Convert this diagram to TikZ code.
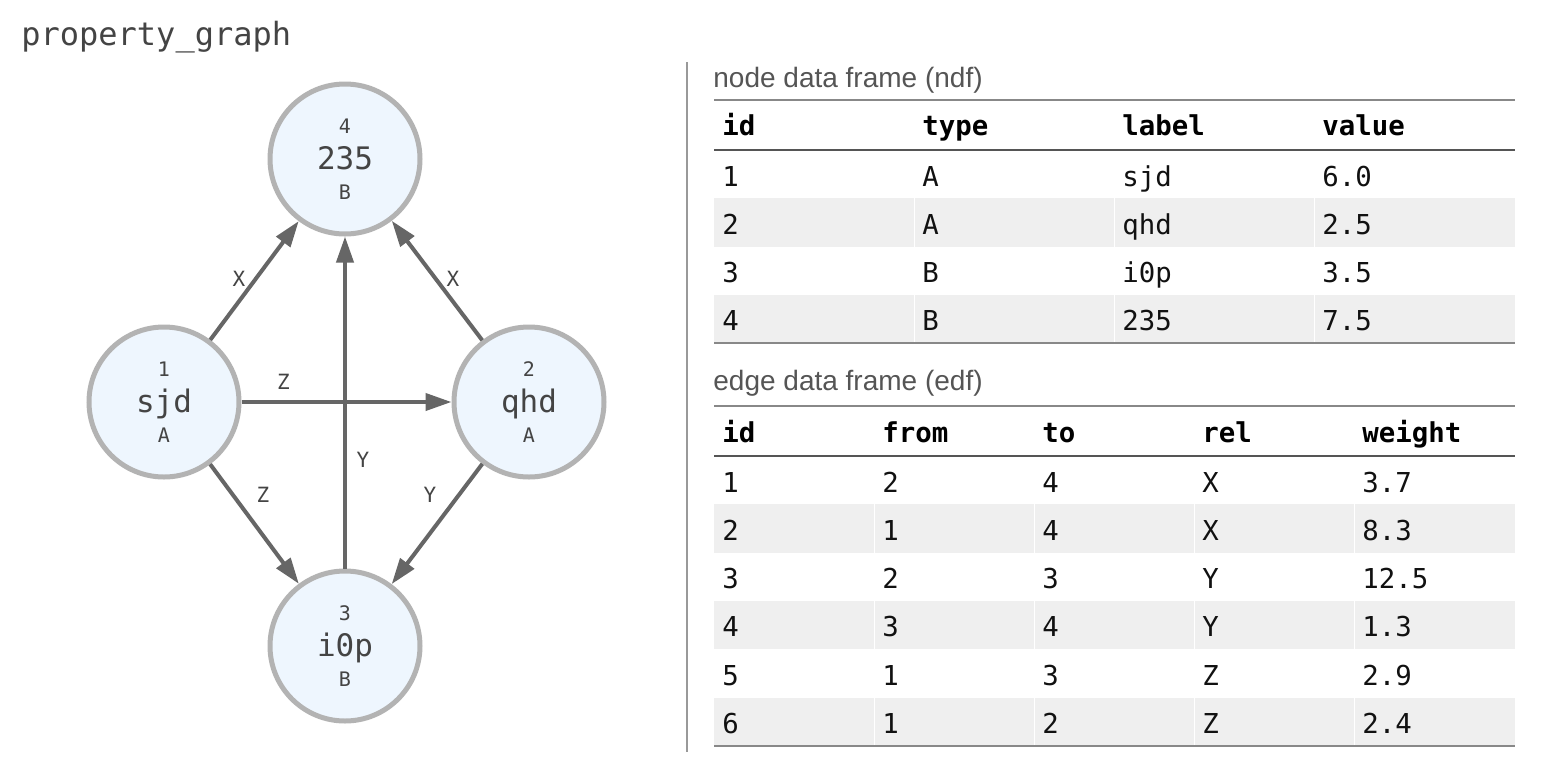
\documentclass[tikz,border=0pt]{standalone}
\usepackage{fontspec}
\setmainfont{Liberation Sans}
\setmonofont{DejaVu Sans Mono}
\usetikzlibrary{arrows.meta,calc}
\definecolor{nodefill}{HTML}{EEF6FE}
\definecolor{nodeline}{HTML}{B3B3B3}
\definecolor{edgec}{HTML}{666666}
\definecolor{txt}{HTML}{444444}
\definecolor{tabtxt}{HTML}{111111}
\definecolor{rowgray}{HTML}{EFEFEF}
\definecolor{rulelight}{HTML}{888888}
\definecolor{ruledark}{HTML}{555555}
\definecolor{divc}{HTML}{999999}
\definecolor{captc}{HTML}{555555}
\tikzset{
  gnode/.style={circle, draw=nodeline, fill=nodefill, line width=2.5pt, minimum size=75pt, inner sep=0pt},
  nid/.style={font=\ttfamily\fontsize{10pt}{12pt}\selectfont, text=txt, inner sep=0pt, anchor=base},
  nlab/.style={font=\ttfamily\fontsize{15.5pt}{18pt}\selectfont, text=txt, inner sep=0pt, anchor=base},
  edge/.style={draw=edgec, line width=2pt, -{Triangle[length=13pt,width=8.5pt]}},
  elab/.style={font=\ttfamily\fontsize{10.5pt}{12pt}\selectfont, text=txt, inner sep=0pt},
  cell/.style={font=\ttfamily\fontsize{13.7pt}{15pt}\selectfont, text=tabtxt, inner sep=0pt, anchor=base west},
  hcell/.style={cell, font=\ttfamily\bfseries\fontsize{13.7pt}{15pt}\selectfont, text=black},
  capt/.style={font=\fontsize{14pt}{16pt}\selectfont, text=captc, inner sep=0pt, anchor=base west},
  rulel/.style={draw=rulelight, line width=1.25pt},
  ruled/.style={draw=ruledark, line width=1.25pt},
}
\begin{document}
\begin{tikzpicture}[x=0.5pt,y=-0.5pt]
\useasboundingbox (0,0) rectangle (1544,772);
\fill[white] (0,0) rectangle (1544,772);

% title
\node[font=\ttfamily\fontsize{16pt}{18pt}\selectfont, text=txt, inner sep=0pt, anchor=base west] (title) at (21,45) {property\_graph};

% graph nodes
\node[gnode] (n4) at (345,159) {};
\node[gnode] (n1) at (164,402) {};
\node[gnode] (n2) at (529,402) {};
\node[gnode] (n3) at (345,646) {};

\foreach \n/\i/\l/\t in {n4/4/235/B, n1/1/sjd/A, n2/2/qhd/A, n3/3/i0p/B}{
  \node[nid] (\n-id) at ($(\n)+(0,-26)$) {\i};
  \node[nlab] (\n-lab) at ($(\n)+(0,10)$) {\l};
  \node[nid] (\n-type) at ($(\n)+(0,40)$) {\t};
}

% edges
\draw[edge] (n1) -- (n4);
\draw[edge] (n2) -- (n4);
\draw[edge] (n3) -- (n4);
\draw[edge] (n1) -- (n2);
\draw[edge] (n1) -- (n3);
\draw[edge] (n2) -- (n3);

\node[elab] (l14) at (239,279) {X};
\node[elab] (l24) at (453,279) {X};
\node[elab] (l12) at (283.5,382) {Z};
\node[elab] (l34) at (363,460) {Y};
\node[elab] (l13) at (263,495) {Z};
\node[elab] (l23) at (430,495) {Y};

% divider
\draw[draw=divc, line width=1pt] (687,62) -- (687,752);

% ---------- node data frame ----------
\node[capt] (ndfcap) at (713,87) {node data frame (ndf)};
\foreach \i in {2,4}{
  \fill[rowgray] (714,{150+48.25*(\i-1)}) rectangle (1515,{150+48.25*\i});
  \foreach \cx in {914,1114,1314}{
    \draw[white, line width=0.5pt] (\cx,{150+48.25*(\i-1)}) -- (\cx,{150+48.25*\i});
  }
}
\draw[rulel] (714,100) -- (1515,100);
\draw[ruled] (714,150) -- (1515,150);
\draw[rulel] (714,343) -- (1515,343);
\node[hcell] (ndh1) at (722,135) {id};
\node[hcell] (ndh2) at (922,135) {type};
\node[hcell] (ndh3) at (1122,135) {label};
\node[hcell] (ndh4) at (1322,135) {value};
\foreach \a/\b/\c/\d [count=\i] in {1/A/sjd/6.0, 2/A/qhd/2.5, 3/B/i0p/3.5, 4/B/235/7.5}{
  \pgfmathsetmacro\bl{150+48.25*(\i-1)+36}
  \node[cell] (nd-\i-1) at (722,\bl) {\a};
  \node[cell] (nd-\i-2) at (922,\bl) {\b};
  \node[cell] (nd-\i-3) at (1122,\bl) {\c};
  \node[cell] (nd-\i-4) at (1322,\bl) {\d};
}

% ---------- edge data frame ----------
\node[capt] (edfcap) at (713,390) {edge data frame (edf)};
\foreach \i in {2,4,6}{
  \fill[rowgray] (714,{456+48.3*(\i-1)}) rectangle (1515,{456+48.3*\i});
  \foreach \cx in {874,1034,1194,1354}{
    \draw[white, line width=0.5pt] (\cx,{456+48.3*(\i-1)}) -- (\cx,{456+48.3*\i});
  }
}
\draw[rulel] (714,406) -- (1515,406);
\draw[ruled] (714,456) -- (1515,456);
\draw[rulel] (714,746) -- (1515,746);
\node[hcell] (edh1) at (722,442) {id};
\node[hcell] (edh2) at (882,442) {from};
\node[hcell] (edh3) at (1042,442) {to};
\node[hcell] (edh4) at (1202,442) {rel};
\node[hcell] (edh5) at (1362,442) {weight};
\foreach \a/\b/\c/\d/\e [count=\i] in {1/2/4/X/3.7, 2/1/4/X/8.3, 3/2/3/Y/12.5, 4/3/4/Y/1.3, 5/1/3/Z/2.9, 6/1/2/Z/2.4}{
  \pgfmathsetmacro\bl{456+48.3*(\i-1)+36}
  \node[cell] (ed-\i-1) at (722,\bl) {\a};
  \node[cell] (ed-\i-2) at (882,\bl) {\b};
  \node[cell] (ed-\i-3) at (1042,\bl) {\c};
  \node[cell] (ed-\i-4) at (1202,\bl) {\d};
  \node[cell] (ed-\i-5) at (1362,\bl) {\e};
}
\end{tikzpicture}
\end{document}
